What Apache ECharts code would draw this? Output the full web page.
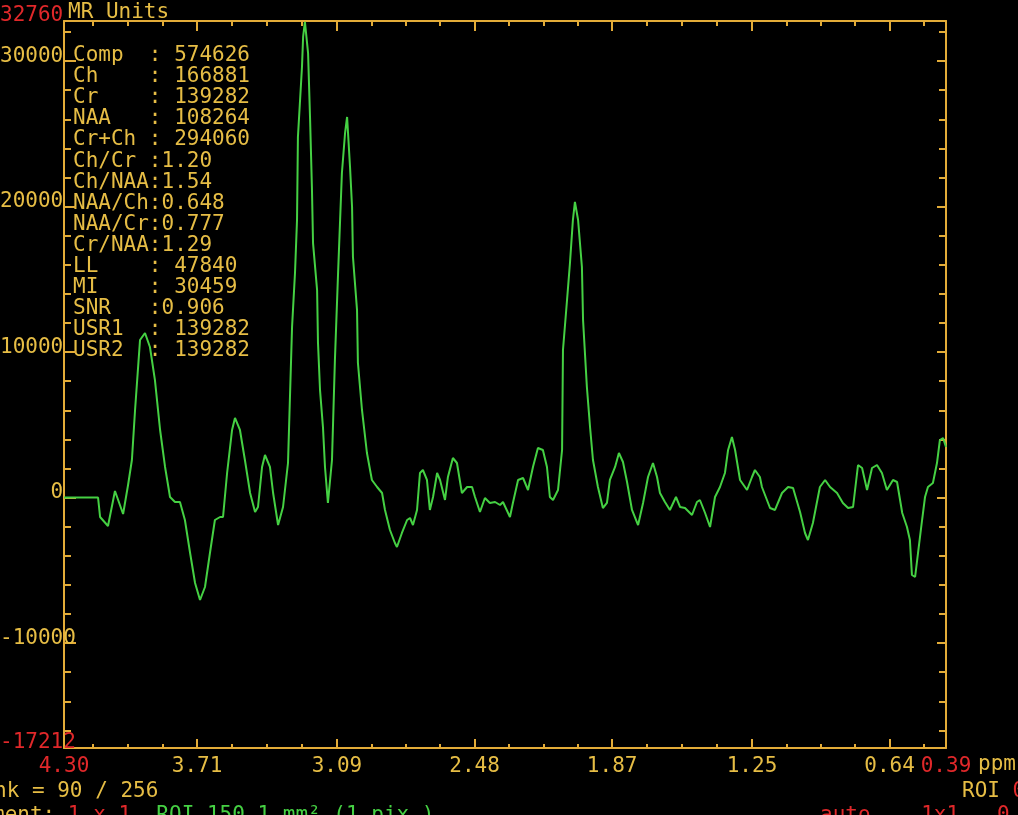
<!DOCTYPE html>
<html>
<head>
<meta charset="utf-8">
<title>MR Spectrum</title>
<script src="https://cdn.jsdelivr.net/npm/echarts@6/dist/echarts.min.js"></script>
<style>
  html, body { margin: 0; padding: 0; background: #000; }
  #spectrum { width: 1018px; height: 815px; }
</style>
</head>
<body>
<div id="spectrum"></div>
<script>
// spectrum: chemical shift (ppm) and signal (MR units)
const ppm = [
  4.300, 4.149, 4.140, 4.105, 4.074, 4.038, 4.016, 3.999, 3.985, 3.963,
  3.941, 3.919, 3.897, 3.874, 3.852, 3.830, 3.808, 3.786, 3.764, 3.741,
  3.719, 3.697, 3.675, 3.653, 3.631, 3.608, 3.595, 3.577, 3.555, 3.542,
  3.520, 3.498, 3.475, 3.453, 3.440, 3.422, 3.409, 3.387, 3.373, 3.351,
  3.329, 3.307, 3.289, 3.276, 3.267, 3.263, 3.245, 3.240, 3.232, 3.218,
  3.209, 3.201, 3.196, 3.178, 3.174, 3.165, 3.152, 3.143, 3.130, 3.112,
  3.099, 3.085, 3.076, 3.068, 3.054, 3.045, 3.032, 3.023, 3.019, 3.001,
  2.997, 2.979, 2.957, 2.935, 2.912, 2.890, 2.877, 2.855, 2.833, 2.824,
  2.802, 2.779, 2.766, 2.753, 2.735, 2.722, 2.709, 2.691, 2.678, 2.664,
  2.646, 2.633, 2.611, 2.598, 2.576, 2.558, 2.536, 2.513, 2.491, 2.478,
  2.456, 2.434, 2.412, 2.389, 2.367, 2.354, 2.323, 2.310, 2.287, 2.265,
  2.243, 2.221, 2.199, 2.177, 2.159, 2.146, 2.132, 2.110, 2.092, 2.088,
  2.070, 2.057, 2.044, 2.035, 2.021, 2.004, 1.999, 1.982, 1.968, 1.955,
  1.933, 1.911, 1.893, 1.880, 1.857, 1.840, 1.822, 1.804, 1.782, 1.755,
  1.733, 1.711, 1.689, 1.671, 1.658, 1.636, 1.614, 1.587, 1.569, 1.547,
  1.516, 1.494, 1.481, 1.458, 1.436, 1.414, 1.392, 1.370, 1.356, 1.339,
  1.325, 1.303, 1.272, 1.250, 1.237, 1.215, 1.206, 1.170, 1.148, 1.117,
  1.090, 1.068, 1.037, 1.015, 1.002, 0.980, 0.949, 0.926, 0.904, 0.873,
  0.847, 0.824, 0.802, 0.780, 0.762, 0.740, 0.718, 0.696, 0.674, 0.652,
  0.625, 0.607, 0.584, 0.563, 0.550, 0.541, 0.527, 0.514, 0.496, 0.483,
  0.470, 0.448, 0.430, 0.417, 0.403, 0.390
]
const signal = [
  0, 0, -1334, -1952, 454, -1127, 866, 2585, 6022, 10834,
  11315, 10353, 8085, 4647, 2104, 40, -302, -302, -1540, -3808,
  -5870, -7039, -6145, -3808, -1540, -1334, -1334, 1691, 4647, 5472,
  4647, 2585, 316, -990, -646, 2104, 2928, 2104, 316, -1884,
  -646, 2378, 11727, 15439, 19082, 24788, 29599, 31662, 32693, 30557,
  25951, 21345, 17496, 14265, 10622, 7391, 4848, 2104, -371, 2585,
  9459, 15439, 19082, 22313, 25063, 26163, 22726, 19976, 16539, 12896,
  9253, 6022, 3066, 1210, 729, 316, -852, -2227, -3121, -3396,
  -2433, -1540, -1402, -1884, -852, 1691, 1897, 1210, -852, 41,
  1691, 1210, -165, 1416, 2722, 2378, 316, 729, 729, 41,
  -990, -27, -371, -302, -509, -302, -1334, -371, 1210, 1347,
  522, 2104, 3410, 3273, 2104, 41, -165, 522, 3273, 10147,
  13584, 16127, 19082, 20320, 19082, 15852, 12209, 7604, 4853, 2585,
  729, -715, -371, 1210, 2104, 3066, 2447, 1072, -852, -1884,
  -371, 1416, 2378, 1416, 316, -302, -852, 41, -646, -715,
  -1196, -302, -165, -1059, -2021, 41, 729, 1691, 3273, 4166,
  3273, 1210, 522, 1416, 1897, 1416, 729, -715, -852, 316,
  729, 660, -990, -2433, -2915, -1746, 729, 1210, 729, 316,
  -371, -715, -646, 2241, 2035, 522, 2035, 2241, 1691, 522,
  1210, 1072, -1059, -2021, -2915, -5320, -5458, -3808, -1540, 41,
  729, 1004, 2378, 3960, 4097, 3479
]

// axis labels
const xLabels = [4.30, 3.71, 3.09, 2.48, 1.87, 1.25, 0.64, 0.39]
const xMajor = [3.71, 3.09, 2.48, 1.87, 1.25, 0.64]
const yLabels = [-17212, -10000, 0, 10000, 20000, 30000, 32760]
const yMajor = [-10000, 0, 10000, 20000, 30000]

const statLines = [
  'Comp  : 574626',
  'Ch    : 166881',
  'Cr    : 139282',
  'NAA   : 108264',
  'Cr+Ch : 294060',
  'Ch/Cr :1.20',
  'Ch/NAA:1.54',
  'NAA/Ch:0.648',
  'NAA/Cr:0.777',
  'Cr/NAA:1.29',
  'LL    : 47840',
  'MI    : 30459',
  'SNR   :0.906',
  'USR1  : 139282',
  'USR2  : 139282'
]

const X_MIN = 0.39
const X_MAX = 4.30
const Y_MIN = -17212
const Y_MAX = 32760

const FONT = 'DejaVu Sans Mono'
const FS = 21
const YELLOW = '#e6bd45'
const AXIS = '#e3ac38'
const RED = '#e0282a'
const GREEN = '#45d043'
const CSS_FONT = FS + 'px "' + FONT + '"'

// minor ticks: quarters between the major ppm ticks
const xMinor = []
const step = (xMajor[0] - xMajor[xMajor.length - 1]) / (xMajor.length - 1) / 4
for (let i = 0; i < xMajor.length - 1; i++) {
  for (let k = 1; k < 4; k++) {
    xMinor.push(xMajor[i] + (xMajor[i + 1] - xMajor[i]) * k / 4)
  }
}
for (let k = 1; k < 4; k++) xMinor.push(xMajor[0] + step * k)
xMinor.push(xMajor[xMajor.length - 1] - step)

const yMinor = []
for (let v = -16000; v <= 32000; v += 2000) {
  if (v % 10000 !== 0) yMinor.push(v)
}

function xAxis(position, ticks, len, withLine, withLabel) {
  return {
    type: 'value',
    position: position,
    min: X_MIN,
    max: X_MAX,
    inverse: true,
    splitLine: { show: false },
    axisLine: { show: withLine, onZero: false, lineStyle: { color: AXIS, width: 2 } },
    axisTick: { show: true, inside: true, length: len, customValues: ticks, lineStyle: { color: AXIS, width: 2 } },
    axisLabel: withLabel ? {
      show: true,
      customValues: xLabels,
      margin: 10,
      fontFamily: FONT,
      fontSize: FS,
      lineHeight: 18,
      color: v => (Number(v) === X_MIN || Number(v) === X_MAX ? RED : YELLOW),
      formatter: v => v.toFixed(2)
    } : { show: false }
  }
}

function yAxis(position, ticks, len, withLine, withLabel) {
  const axis = {
    type: 'value',
    position: position,
    min: Y_MIN,
    max: Y_MAX,
    splitLine: { show: false },
    axisLine: { show: withLine, onZero: false, lineStyle: { color: AXIS, width: 2 } },
    axisTick: { show: true, inside: true, length: len, customValues: ticks, lineStyle: { color: AXIS, width: 2 } },
    axisLabel: { show: false }
  }
  if (withLabel) {
    axis.axisLabel = {
      show: true,
      customValues: yLabels,
      align: 'left',
      verticalAlign: 'bottom',
      margin: 64,
      lineHeight: 10,
      fontFamily: FONT,
      fontSize: FS,
      color: v => (Number(v) === Y_MIN || Number(v) === Y_MAX ? RED : YELLOW),
      // terminal style: right aligned in a 5 character column
      formatter: v => String(v).padStart(5, ' ')
    }
  }
  return axis
}

const chart = echarts.init(document.getElementById('spectrum'))

const option = {
  backgroundColor: '#000',
  animation: false,
  grid: { left: 64, right: 72, top: 21, bottom: 67, containLabel: false, outerBoundsMode: 'none' },
  xAxis: [
    xAxis('bottom', xMajor, 9, true, true),
    xAxis('bottom', xMinor, 4, false, false),
    xAxis('top', xMajor, 10, true, false),
    xAxis('top', xMinor, 5, false, false)
  ],
  yAxis: [
    yAxis('left', yMajor, 12, true, true),
    yAxis('left', yMinor, 7, false, false),
    yAxis('right', yMajor, 9, true, false),
    yAxis('right', yMinor, 7, false, false)
  ],
  series: [
    {
      type: 'line',
      xAxisIndex: 0,
      yAxisIndex: 0,
      data: ppm.map((p, i) => [p, signal[i]]),
      showSymbol: false,
      clip: true,
      lineStyle: { color: GREEN, width: 2 }
    }
  ],
  graphic: [
    {
      type: 'text',
      x: 68,
      y: 13,
      style: { text: 'MR Units', fill: YELLOW, font: CSS_FONT, verticalAlign: 'middle' }
    },
    {
      type: 'text',
      left: 73,
      top: 45,
      style: {
        text: statLines.join('\n'),
        fill: YELLOW,
        font: CSS_FONT,
        lineHeight: 21.1
      }
    },
    {
      type: 'text',
      x: 978,
      y: 765,
      style: { text: 'ppm', fill: YELLOW, font: CSS_FONT, verticalAlign: 'middle' }
    },
    {
      type: 'text',
      x: -6,
      y: 792,
      style: { text: 'nk = 90 / 256', fill: YELLOW, font: CSS_FONT, verticalAlign: 'middle' }
    },
    {
      type: 'text',
      x: 962,
      y: 792,
      style: {
        text: '{y|ROI }{r|0}',
        verticalAlign: 'middle',
        rich: {
          y: { fill: YELLOW, fontFamily: FONT, fontSize: FS },
          r: { fill: RED, fontFamily: FONT, fontSize: FS }
        }
      }
    },
    {
      type: 'text',
      x: -8,
      y: 816,
      style: {
        text: '{y|ment: }{r|1 x 1}{g|  ROI 150.1 mm² (1 pix.)}',
        verticalAlign: 'middle',
        rich: {
          y: { fill: YELLOW, fontFamily: FONT, fontSize: FS },
          r: { fill: RED, fontFamily: FONT, fontSize: FS },
          g: { fill: GREEN, fontFamily: FONT, fontSize: FS }
        }
      }
    },
    {
      type: 'text',
      x: 820,
      y: 816,
      style: { text: 'auto    1x1   0', fill: RED, font: CSS_FONT, verticalAlign: 'middle' }
    }
  ]
}

chart.setOption(option)
</script>
</body>
</html>
